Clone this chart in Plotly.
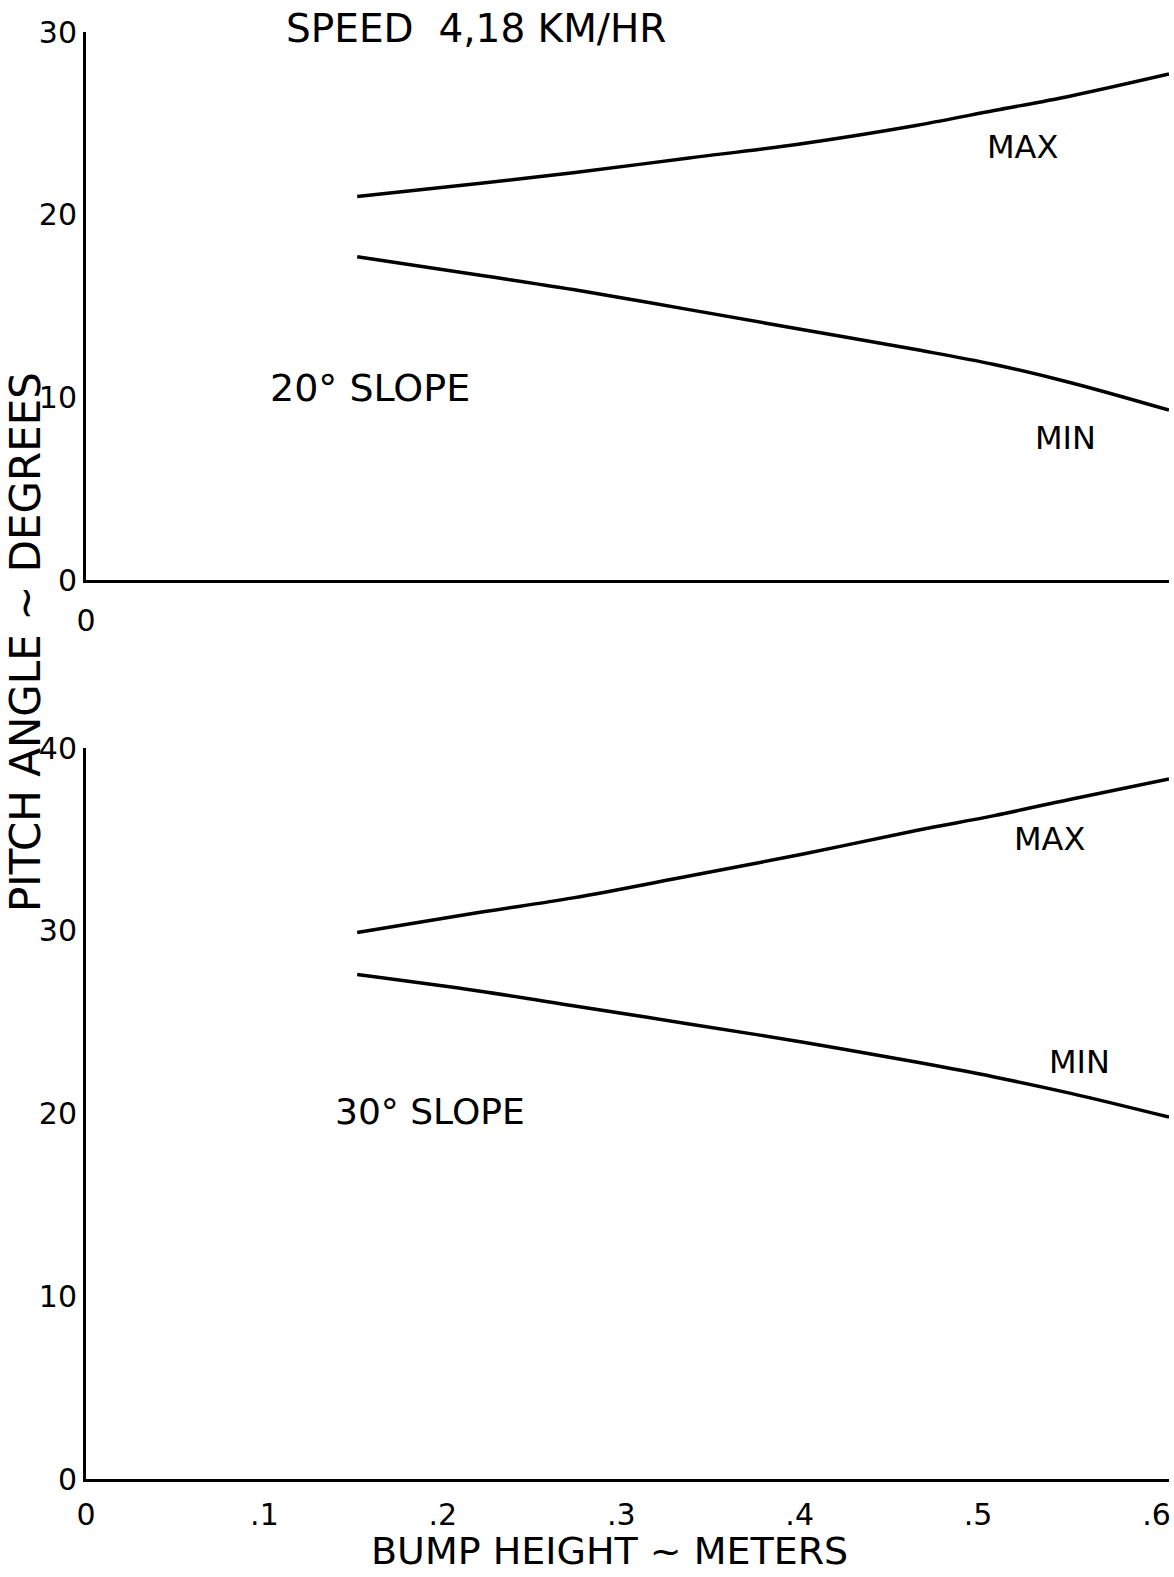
import plotly.graph_objects as go

# ---- data ----
bump_height = [0.152, 0.22, 0.273, 0.338, 0.402, 0.466, 0.509, 0.552, 0.607]

slope20_max = [21.0, 21.7, 22.3, 23.1, 23.9, 24.9, 25.7, 26.5, 27.7]
slope20_min = [17.7, 16.7, 15.9, 14.8, 13.7, 12.6, 11.8, 10.8, 9.3]

slope30_max = [29.9, 31.0, 31.8, 33.0, 34.2, 35.5, 36.3, 37.2, 38.3]
slope30_min = [27.6, 26.7, 25.9, 24.9, 23.9, 22.8, 22.0, 21.1, 19.8]

x_tickvals = [0, 0.1, 0.2, 0.3, 0.4, 0.5, 0.6]
x_ticktext = ["0", ".1", ".2", ".3", ".4", ".5", ".6"]
top_yticks = [0, 10, 20, 30]
bottom_yticks = [0, 10, 20, 30, 40]

W, H = 1174, 1577
FONT = "DejaVu Sans"
INK = "black"

fig = go.Figure()

line_style = dict(color=INK, width=3.5, shape="spline", smoothing=1.0)

fig.add_trace(go.Scatter(x=bump_height, y=slope20_max, mode="lines", line=line_style,
                         xaxis="x", yaxis="y", showlegend=False))
fig.add_trace(go.Scatter(x=bump_height, y=slope20_min, mode="lines", line=line_style,
                         xaxis="x", yaxis="y", showlegend=False))
fig.add_trace(go.Scatter(x=bump_height, y=slope30_max, mode="lines", line=line_style,
                         xaxis="x2", yaxis="y2", showlegend=False))
fig.add_trace(go.Scatter(x=bump_height, y=slope30_min, mode="lines", line=line_style,
                         xaxis="x2", yaxis="y2", showlegend=False))

x_dom = [86 / W, 1169 / W]
top_dom = [(H - 580) / H, (H - 32) / H]
bot_dom = [(H - 1479) / H, (H - 748) / H]

axis_common = dict(showline=True, linecolor=INK, linewidth=3, showgrid=False,
                   zeroline=False, ticks="", automargin=False,
                   tickfont=dict(family=FONT, size=30, color=INK))

fig.update_layout(
    template="none",
    width=W, height=H,
    margin=dict(l=0, r=0, t=0, b=0, pad=0, autoexpand=False),
    paper_bgcolor="white", plot_bgcolor="white",
    font=dict(family=FONT, color=INK),
    xaxis=dict(domain=x_dom, range=[0, 0.607], anchor="y",
               tickvals=[0], ticktext=["0"], ticklabelstandoff=12, **axis_common),
    yaxis=dict(domain=top_dom, range=[0, 30], anchor="x",
               tickvals=top_yticks, **axis_common),
    xaxis2=dict(domain=x_dom, range=[0, 0.607], anchor="y2",
                tickvals=x_tickvals, ticktext=x_ticktext, ticklabelstandoff=7,
                **axis_common),
    yaxis2=dict(domain=bot_dom, range=[0, 40], anchor="x2",
                tickvals=bottom_yticks, **axis_common),
)

ann_font = dict(family=FONT, size=32, color=INK)
annotations = [
    dict(text="SPEED  4,18 KM/HR", x=476 / W, y=(H - 28) / H, xref="paper", yref="paper",
         xanchor="center", yanchor="middle", showarrow=False,
         font=dict(family=FONT, size=39, color=INK)),
    dict(text="MAX", x=0.525, y=23.7, xref="x", yref="y", showarrow=False, font=ann_font),
    dict(text="MIN", x=0.549, y=7.8, xref="x", yref="y", showarrow=False, font=ann_font),
    dict(text="20° SLOPE", x=0.159, y=10.5, xref="x", yref="y", showarrow=False,
         font=dict(family=FONT, size=38, color=INK)),
    dict(text="MAX", x=0.540, y=35.0, xref="x2", yref="y2", showarrow=False, font=ann_font),
    dict(text="MIN", x=0.557, y=22.8, xref="x2", yref="y2", showarrow=False, font=ann_font),
    dict(text="30° SLOPE", x=0.193, y=20.1, xref="x2", yref="y2", showarrow=False,
         font=dict(family=FONT, size=36, color=INK)),
    dict(text="PITCH ANGLE ~ DEGREES", x=25 / W, y=(H - 642) / H, xref="paper", yref="paper",
         xanchor="center", yanchor="middle", textangle=-90, showarrow=False,
         font=dict(family=FONT, size=42, color=INK)),
    dict(text="BUMP HEIGHT ~ METERS", x=609 / W, y=(H - 1551) / H, xref="paper", yref="paper",
         xanchor="center", yanchor="middle", showarrow=False,
         font=dict(family=FONT, size=38, color=INK)),
]
fig.update_layout(annotations=annotations)

fig.write_html("out.html")
